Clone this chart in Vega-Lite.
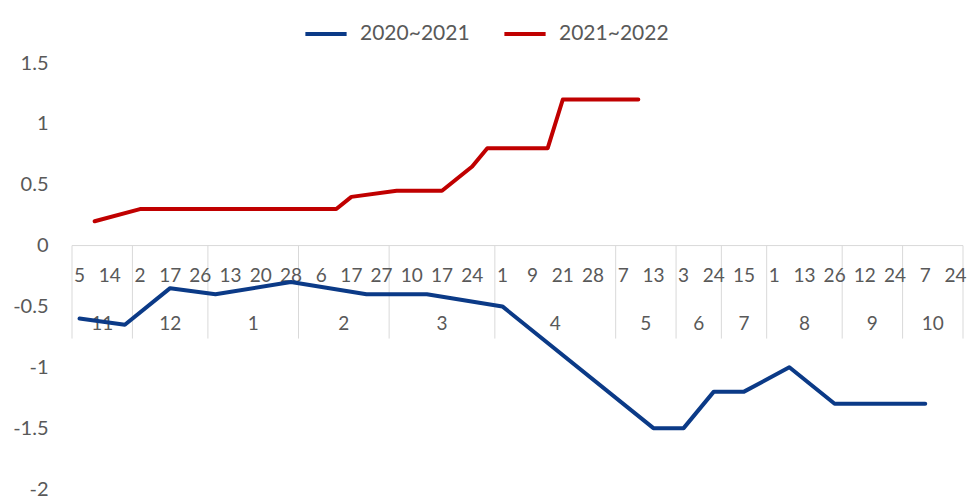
{
  "$schema": "https://vega.github.io/schema/vega-lite/v6.json",
  "autosize": "none",
  "padding": {"left": 72, "top": 63, "right": 5, "bottom": 10},
  "width": 891,
  "height": 426,
  "background": "white",
  "config": {
    "view": {"stroke": null},
    "font": "Lato",
    "text": {"font": "Lato", "fontSize": 19, "fill": "#595959"}
  },
  "datasets": {
    "lines": [
      {"series": "2020~2021", "idx": 0, "value": -0.6},
      {"series": "2020~2021", "idx": 3, "value": -0.65},
      {"series": "2020~2021", "idx": 6, "value": -0.35},
      {"series": "2020~2021", "idx": 9, "value": -0.4},
      {"series": "2020~2021", "idx": 14, "value": -0.3},
      {"series": "2020~2021", "idx": 19, "value": -0.4},
      {"series": "2020~2021", "idx": 23, "value": -0.4},
      {"series": "2020~2021", "idx": 28, "value": -0.5},
      {"series": "2020~2021", "idx": 38, "value": -1.5},
      {"series": "2020~2021", "idx": 40, "value": -1.5},
      {"series": "2020~2021", "idx": 42, "value": -1.2},
      {"series": "2020~2021", "idx": 44, "value": -1.2},
      {"series": "2020~2021", "idx": 47, "value": -1.0},
      {"series": "2020~2021", "idx": 50, "value": -1.3},
      {"series": "2020~2021", "idx": 56, "value": -1.3},
      {"series": "2021~2022", "idx": 1, "value": 0.2},
      {"series": "2021~2022", "idx": 4, "value": 0.3},
      {"series": "2021~2022", "idx": 17, "value": 0.3},
      {"series": "2021~2022", "idx": 18, "value": 0.4},
      {"series": "2021~2022", "idx": 21, "value": 0.45},
      {"series": "2021~2022", "idx": 24, "value": 0.45},
      {"series": "2021~2022", "idx": 26, "value": 0.65},
      {"series": "2021~2022", "idx": 27, "value": 0.8},
      {"series": "2021~2022", "idx": 31, "value": 0.8},
      {"series": "2021~2022", "idx": 32, "value": 1.2},
      {"series": "2021~2022", "idx": 37, "value": 1.2}
    ],
    "days": [
      {"idx": 0, "day": "5"}, {"idx": 2, "day": "14"},
      {"idx": 4, "day": "2"}, {"idx": 6, "day": "17"}, {"idx": 8, "day": "26"},
      {"idx": 10, "day": "13"}, {"idx": 12, "day": "20"}, {"idx": 14, "day": "28"},
      {"idx": 16, "day": "6"}, {"idx": 18, "day": "17"}, {"idx": 20, "day": "27"},
      {"idx": 22, "day": "10"}, {"idx": 24, "day": "17"}, {"idx": 26, "day": "24"},
      {"idx": 28, "day": "1"}, {"idx": 30, "day": "9"}, {"idx": 32, "day": "21"}, {"idx": 34, "day": "28"},
      {"idx": 36, "day": "7"}, {"idx": 38, "day": "13"},
      {"idx": 40, "day": "3"}, {"idx": 42, "day": "24"},
      {"idx": 44, "day": "15"},
      {"idx": 46, "day": "1"}, {"idx": 48, "day": "13"}, {"idx": 50, "day": "26"},
      {"idx": 52, "day": "12"}, {"idx": 54, "day": "24"},
      {"idx": 56, "day": "7"}, {"idx": 58, "day": "24"}
    ],
    "months": [
      {"month": "11", "mid": 1.5}, {"month": "12", "mid": 6},
      {"month": "1", "mid": 11.5}, {"month": "2", "mid": 17.5},
      {"month": "3", "mid": 24}, {"month": "4", "mid": 31.5},
      {"month": "5", "mid": 37.5}, {"month": "6", "mid": 41},
      {"month": "7", "mid": 44}, {"month": "8", "mid": 48},
      {"month": "9", "mid": 52.5}, {"month": "10", "mid": 56.5}
    ],
    "bounds": [
      {"b": -0.5}, {"b": 3.5}, {"b": 8.5}, {"b": 14.5}, {"b": 20.5},
      {"b": 27.5}, {"b": 35.5}, {"b": 39.5}, {"b": 42.5}, {"b": 45.5},
      {"b": 50.5}, {"b": 54.5}, {"b": 58.5}
    ]
  },
  "layer": [
    {
      "data": {"values": [{"axis": "x"}]},
      "mark": {"type": "rule", "color": "#d9d9d9", "strokeWidth": 1},
      "encoding": {"y": {"datum": 0, "type": "quantitative", "scale": {"domain": [-2, 1.5]}}}
    },
    {
      "data": {"name": "bounds"},
      "mark": {"type": "rule", "color": "#d9d9d9", "strokeWidth": 1, "y2Offset": 93},
      "encoding": {
        "x": {"field": "b", "type": "quantitative", "scale": {"domain": [-0.5, 58.5], "nice": false, "zero": false}, "axis": null},
        "y": {"datum": 0, "type": "quantitative"},
        "y2": {"datum": 0}
      }
    },
    {
      "data": {"name": "days"},
      "mark": {"type": "text", "dy": 30, "baseline": "middle", "align": "center", "fontSize": 19, "color": "#595959"},
      "encoding": {
        "x": {"field": "idx", "type": "quantitative"},
        "y": {"datum": 0, "type": "quantitative"},
        "text": {"field": "day"}
      }
    },
    {
      "data": {"name": "months"},
      "mark": {"type": "text", "dy": 78, "baseline": "middle", "align": "center", "fontSize": 19, "color": "#595959"},
      "encoding": {
        "x": {"field": "mid", "type": "quantitative"},
        "y": {"datum": 0, "type": "quantitative"},
        "text": {"field": "month"}
      }
    },
    {
      "data": {"name": "lines"},
      "mark": {"type": "line", "strokeWidth": 4, "strokeJoin": "round", "strokeCap": "round"},
      "encoding": {
        "x": {"field": "idx", "type": "quantitative"},
        "y": {
          "field": "value", "type": "quantitative",
          "scale": {"domain": [-2, 1.5], "nice": false, "zero": false},
          "axis": {
            "values": [-2, -1.5, -1, -0.5, 0, 0.5, 1, 1.5],
            "labelExpr": "toString(datum.value)",
            "domain": false, "ticks": false, "grid": false,
            "labelPadding": 24, "labelFontSize": 20, "labelColor": "#595959",
            "labelFont": "Lato", "title": null
          }
        },
        "color": {
          "field": "series", "type": "nominal",
          "scale": {"domain": ["2020~2021", "2021~2022"], "range": ["#0b3a87", "#c00000"]},
          "legend": {
            "orient": "none", "legendX": 231, "legendY": -52,
            "direction": "horizontal", "title": null,
            "symbolType": "stroke", "symbolSize": 1700, "symbolStrokeWidth": 4,
            "labelFontSize": 21, "labelColor": "#595959", "labelFont": "Lato",
            "labelOffset": 11, "columnPadding": 26
          }
        }
      }
    }
  ]
}
